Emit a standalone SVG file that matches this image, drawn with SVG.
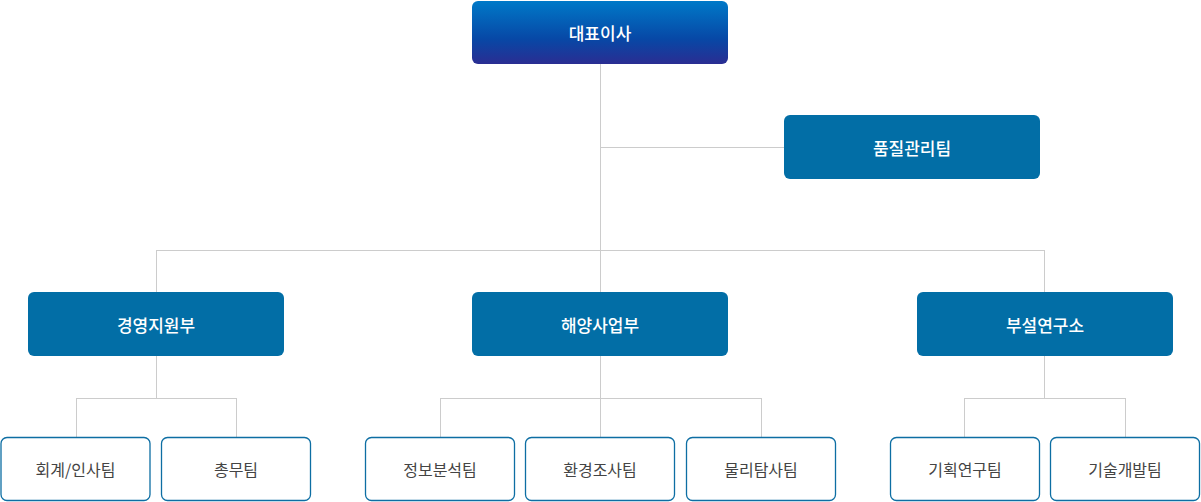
<svg xmlns="http://www.w3.org/2000/svg" width="1201" height="502" viewBox="0 0 1201 502">
<style>
.c{stroke:#cccccc;stroke-width:1;fill:none}
.m{fill:#026ea6}
.s{fill:#fff;stroke:#0d6ea3;stroke-width:1.3}
.t{font-family:"Noto Sans CJK KR","Noto Sans",sans-serif;font-size:17px;text-anchor:middle;dominant-baseline:central}
.w{fill:#fff;font-weight:500}
.g{fill:#444;font-size:16px}
</style>
<defs>
<linearGradient id="gr" x1="0" y1="0" x2="0" y2="1">
<stop offset="0" stop-color="#0079c8"/>
<stop offset="0.6" stop-color="#0748a6"/>
<stop offset="1" stop-color="#2a2d92"/>
</linearGradient>
</defs>
<g id="connectors">
<path class="c" d="M600.5 64V292M600.5 147.5H784M156.5 250.5H1044.5M156.5 250V292M1044.5 250V292"/>
<path class="c" d="M156.5 356V398.5M76.5 398.5H236.5M76.5 398V437M236.5 398V437"/>
<path class="c" d="M600.5 356V437M440.5 398.5H761.5M440.5 398V437M761.5 398V437"/>
<path class="c" d="M1044.5 356V398.5M964.5 398.5H1125.5M964.5 398V437M1125.5 398V437"/>
</g>
<g id="ceo"><rect x="472" y="1" width="256" height="63" rx="6" fill="url(#gr)"/><text class="t w" x="600" y="32">대표이사</text></g>
<g id="qa"><rect class="m" x="784" y="115" width="256" height="64" rx="6"/><text class="t w" x="912" y="147">품질관리팀</text></g>
<g id="d1"><rect class="m" x="28" y="292" width="256" height="64" rx="6"/><text class="t w" x="156" y="324">경영지원부</text></g>
<g id="d2"><rect class="m" x="472" y="292" width="256" height="64" rx="6"/><text class="t w" x="600" y="324">해양사업부</text></g>
<g id="d3"><rect class="m" x="917" y="292" width="256" height="64" rx="6"/><text class="t w" x="1045" y="324">부설연구소</text></g>
<g id="t1"><rect class="s" x="1" y="437.5" width="149" height="63" rx="6"/><text class="t g" x="75.5" y="469">회계/인사팀</text></g>
<g id="t2"><rect class="s" x="161.5" y="437.5" width="149" height="63" rx="6"/><text class="t g" x="236" y="469">총무팀</text></g>
<g id="t3"><rect class="s" x="365.5" y="437.5" width="149" height="63" rx="6"/><text class="t g" x="440" y="469">정보분석팀</text></g>
<g id="t4"><rect class="s" x="525.5" y="437.5" width="149" height="63" rx="6"/><text class="t g" x="600" y="469">환경조사팀</text></g>
<g id="t5"><rect class="s" x="686.5" y="437.5" width="149" height="63" rx="6"/><text class="t g" x="761" y="469">물리탐사팀</text></g>
<g id="t6"><rect class="s" x="890.5" y="437.5" width="149" height="63" rx="6"/><text class="t g" x="965" y="469">기획연구팀</text></g>
<g id="t7"><rect class="s" x="1050.5" y="437.5" width="149" height="63" rx="6"/><text class="t g" x="1125" y="469">기술개발팀</text></g>
</svg>
